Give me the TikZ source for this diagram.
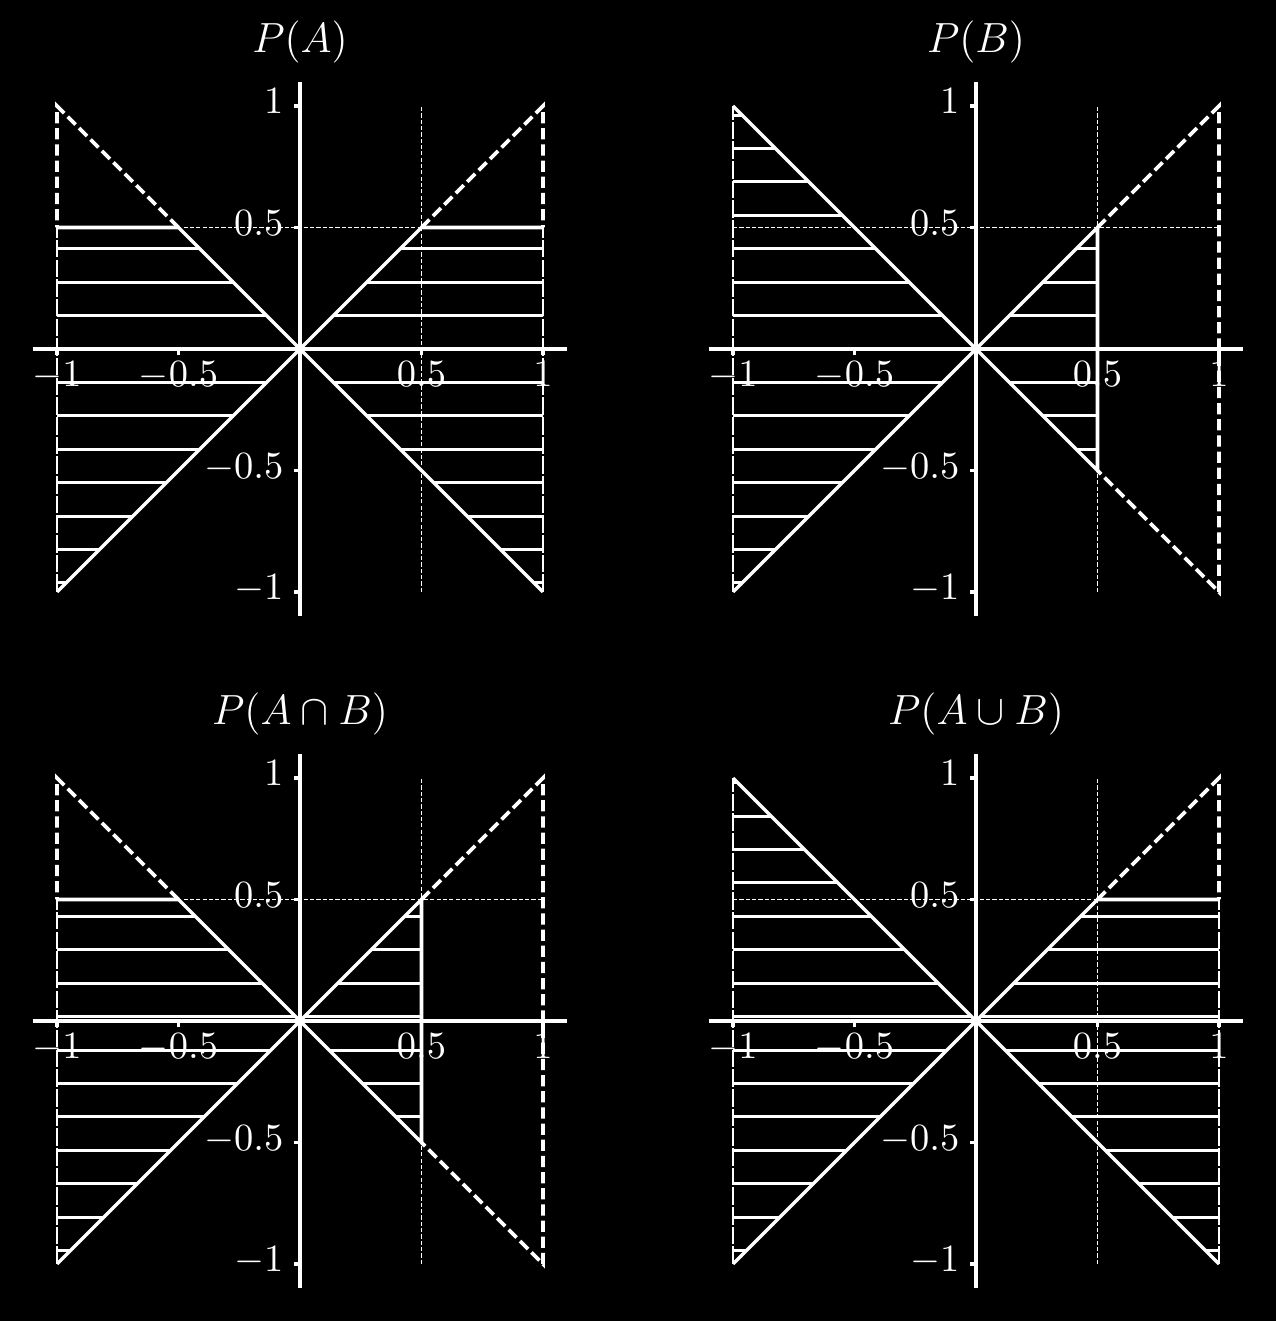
\documentclass[tikz,border=0pt]{standalone}
\usepackage{tikz}
\usetikzlibrary{calc}

\newcommand{\plotaxes}{%
  \draw[axisline] (-1.1,0) -- (1.1,0);
  \draw[axisline] (0,-1.1) -- (0,1.1);
  \foreach \v/\t [count=\i] in {-1/$-1$,-0.5/$-0.5$,0.5/$0.5$,1/$1$}{
    \draw[axisline] (\v,0) -- ++(0,-0.06cm);
    \draw[axisline] (0,\v) -- ++(-0.06cm,0);
    \node[ticklabel,anchor=base,yshift=-0.377cm] (xt\i) at (\v,0) {\t};
    \node[ticklabel,anchor=base east,xshift=-0.16cm,yshift=-0.08cm] (yt\i) at (0,\v) {\t};
  }}
\newcommand{\hatchfill}[2]{%
  \begin{scope}
    \clip #1;
    \foreach \k in {-8,...,8}
      \draw[hatchline] (-1.1,{#2+\k*0.1375}) -- (1.1,{#2+\k*0.1375});
  \end{scope}}

\begin{document}
\begin{tikzpicture}[x=2.43cm,y=2.43cm,white,
   axisline/.style={line width=0.95pt},
   solidedge/.style={line width=1pt},
   dashedge/.style={line width=1.1pt,dash pattern=on 3.2pt off 1.4pt},
   sideedge/.style={line width=0.85pt,dash pattern=on 5pt off 0.6pt},
   guideline/.style={line width=0.4pt,dash pattern=on 1.2pt off 0.6pt},
   hatchline/.style={line width=0.85pt},
   ticklabel/.style={inner sep=0pt,font=\fontsize{10.5}{12}\selectfont},
   plottitle/.style={inner sep=0pt,anchor=base,font=\fontsize{12}{14}\selectfont}]
  \useasboundingbox (0cm,0cm) rectangle (12.76cm,13.21cm);
  \fill[black] (0cm,0cm) rectangle (12.76cm,13.21cm);

  \begin{scope}[shift={(3cm,9.72cm)}]
    \hatchfill{(-1,0.5) -- (-0.5,0.5) -- (0,0) -- (-1,-1) -- cycle}{0}
    \hatchfill{(1,0.5) -- (0.5,0.5) -- (0,0) -- (1,-1) -- cycle}{0}
    \plotaxes
    \draw[guideline] (-1,0.5) -- (1,0.5) (0.5,-1) -- (0.5,1);
    \draw[solidedge] (-1,0.5) -- (-0.5,0.5) -- (0,0) -- (-1,-1);
    \draw[solidedge] (1,0.5) -- (0.5,0.5) -- (0,0) -- (1,-1);
    \draw[sideedge] (-1,-1) -- (-1,0.5) (1,-1) -- (1,0.5);
    \draw[dashedge] (-0.5,0.5) -- (-1,1) -- (-1,0.5) (0.5,0.5) -- (1,1) -- (1,0.5);
    \node[plottitle] (tA) at (0,1.222) {$P(A)$};
  \end{scope}

  \begin{scope}[shift={(9.76cm,9.72cm)}]
    \hatchfill{(-1,1) -- (0,0) -- (-1,-1) -- cycle}{0}
    \hatchfill{(0,0) -- (0.5,0.5) -- (0.5,-0.5) -- cycle}{0}
    \plotaxes
    \draw[guideline] (-1,0.5) -- (1,0.5) (0.5,-1) -- (0.5,1);
    \draw[solidedge] (-1,1) -- (0,0) -- (-1,-1);
    \draw[solidedge] (0,0) -- (0.5,0.5) -- (0.5,-0.5) -- cycle;
    \draw[sideedge] (-1,-1) -- (-1,1);
    \draw[dashedge] (0.5,0.5) -- (1,1) -- (1,-1) -- (0.5,-0.5);
    \node[plottitle] (tB) at (0,1.222) {$P(B)$};
  \end{scope}

  \begin{scope}[shift={(3cm,3cm)}]
    \hatchfill{(-1,0.5) -- (-0.5,0.5) -- (0,0) -- (-1,-1) -- cycle}{0.018}
    \hatchfill{(0,0) -- (0.5,0.5) -- (0.5,-0.5) -- cycle}{0.018}
    \plotaxes
    \draw[guideline] (-1,0.5) -- (1,0.5) (0.5,-1) -- (0.5,1);
    \draw[solidedge] (-1,0.5) -- (-0.5,0.5) -- (0,0) -- (-1,-1);
    \draw[solidedge] (0,0) -- (0.5,0.5) -- (0.5,-0.5) -- cycle;
    \draw[sideedge] (-1,-1) -- (-1,0.5);
    \draw[dashedge] (-0.5,0.5) -- (-1,1) -- (-1,0.5) (0.5,0.5) -- (1,1) -- (1,-1) -- (0.5,-0.5);
    \node[plottitle] (tAB) at (0,1.222) {$P(A\cap B)$};
  \end{scope}

  \begin{scope}[shift={(9.76cm,3cm)}]
    \hatchfill{(-1,1) -- (0,0) -- (-1,-1) -- cycle}{0.018}
    \hatchfill{(0,0) -- (0.5,0.5) -- (1,0.5) -- (1,-1) -- cycle}{0.018}
    \plotaxes
    \draw[guideline] (-1,0.5) -- (1,0.5) (0.5,-1) -- (0.5,1);
    \draw[solidedge] (-1,1) -- (0,0) -- (-1,-1);
    \draw[solidedge] (1,-1) -- (0,0) -- (0.5,0.5) -- (1,0.5);
    \draw[sideedge] (-1,-1) -- (-1,1) (1,-1) -- (1,0.5);
    \draw[dashedge] (0.5,0.5) -- (1,1) -- (1,0.5);
    \node[plottitle] (tAuB) at (0,1.222) {$P(A\cup B)$};
  \end{scope}
\end{tikzpicture}
\end{document}
